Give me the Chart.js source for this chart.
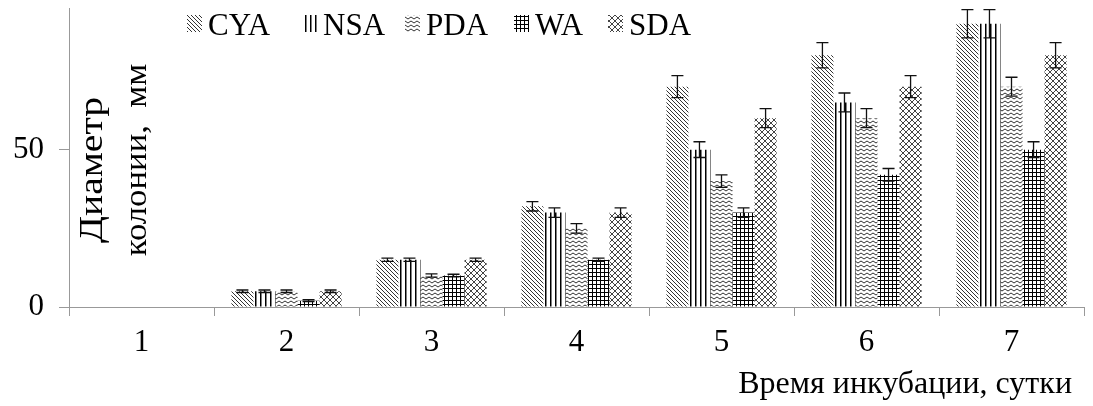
<!DOCTYPE html>
<html>
<head>
<meta charset="utf-8">
<script src="https://cdn.jsdelivr.net/npm/chart.js@4.4.0/dist/chart.umd.min.js"></script>
<style>
  body { margin: 0; background: #fff; }
  #wrap { width: 1093px; height: 406px; }
</style>
</head>
<body>
<div id="wrap"><canvas id="colonyChart" width="1093" height="406"></canvas></div>
<script>
// days of incubation
var days = ["1", "2", "3", "4", "5", "6", "7"];
var media = ["CYA", "NSA", "PDA", "WA", "SDA"];

// colony diameter, mm
var cya = [0, 5, 15, 32, 70, 80, 90];
var nsa = [0, 5, 15, 30, 50, 65, 90];
var pda = [0, 5, 10, 25, 40, 60, 70];
var wa  = [0, 2, 10, 15, 30, 42, 50];
var sda = [0, 5, 15, 30, 60, 70, 80];

// error (+/-)
var cyaErr = [0, 0.4, 0.5, 1.5, 3.5, 4, 4.5];
var nsaErr = [0, 0.4, 0.5, 1.5, 2.5, 3, 4.5];
var pdaErr = [0, 0.4, 0.5, 1.5, 2, 3, 3];
var waErr  = [0, 0.3, 0.4, 0.5, 1.5, 2, 2.5];
var sdaErr = [0, 0.4, 0.5, 1.5, 3, 3.5, 4];

var yTicks = [0, 50];
var FONT = "'Liberation Serif', 'Times New Roman', serif";
// left edge of each legend swatch
var legendX = [187, 302, 405, 514, 608];

/*************** patterns ***************/
function makePattern(kind) {
    var c = document.createElement("canvas");
    var g;
    if (kind == "diag") {
        c.width = 4; c.height = 4;
        g = c.getContext("2d");
        g.strokeStyle = "#333";
        g.lineWidth = 1;
        g.beginPath();
        g.moveTo(-1, -1); g.lineTo(5, 5);
        g.moveTo(-1, 3); g.lineTo(1, 5);
        g.moveTo(3, -1); g.lineTo(5, 1);
        g.stroke();
    } else if (kind == "vert") {
        c.width = 5; c.height = 2;
        g = c.getContext("2d");
        g.fillStyle = "#000";
        g.fillRect(0, 0, 1.5, 2);
    } else if (kind == "wave") {
        c.width = 6; c.height = 4;
        g = c.getContext("2d");
        g.strokeStyle = "#333";
        g.lineWidth = 1;
        g.beginPath();
        g.moveTo(0, 3); g.lineTo(3, 1); g.lineTo(6, 3);
        g.stroke();
    } else if (kind == "grid") {
        c.width = 4; c.height = 4;
        g = c.getContext("2d");
        g.fillStyle = "#000";
        g.fillRect(0, 0, 4, 1);
        g.fillRect(0, 0, 1, 4);
    } else if (kind == "cross") {
        c.width = 6; c.height = 6;
        g = c.getContext("2d");
        g.strokeStyle = "#444";
        g.lineWidth = 1;
        g.beginPath();
        g.moveTo(0, 0); g.lineTo(6, 6);
        g.moveTo(6, 0); g.lineTo(0, 6);
        g.stroke();
    }
    return g.createPattern(c, "repeat");
}

var ctx = document.getElementById("colonyChart").getContext("2d");
var patterns = [makePattern("diag"), makePattern("vert"), makePattern("wave"), makePattern("grid"), makePattern("cross")];
var values = [cya, nsa, pda, wa, sda];
var errors = [cyaErr, nsaErr, pdaErr, waErr, sdaErr];

var datasets = media.map(function (m, i) {
    return {
        label: m,
        data: values[i],
        errors: errors[i],
        backgroundColor: patterns[i],
        borderWidth: 0,
        barPercentage: 1.0,
        categoryPercentage: 0.76
    };
});

/*************** error bars ***************/
var errorBars = {
    id: "errorBars",
    afterDatasetsDraw: function (chart) {
        var c = chart.ctx, y = chart.scales.y;
        c.save();
        c.strokeStyle = "#111";
        c.lineWidth = 1.3;
        chart.data.datasets.forEach(function (ds, i) {
            chart.getDatasetMeta(i).data.forEach(function (bar, j) {
                var e = ds.errors[j];
                if (!e) return;
                var hi = y.getPixelForValue(ds.data[j] + e);
                var lo = y.getPixelForValue(ds.data[j] - e);
                c.beginPath();
                c.moveTo(bar.x, hi); c.lineTo(bar.x, lo);
                c.moveTo(bar.x - 6, hi); c.lineTo(bar.x + 6, hi);
                c.moveTo(bar.x - 6, lo); c.lineTo(bar.x + 6, lo);
                c.stroke();
            });
        });
        c.restore();
    }
};

/*************** legend + axis titles ***************/
function rotatedText(c, text, x, y, size, stretch) {
    c.save();
    c.font = size + "px " + FONT;
    c.fillStyle = "#000";
    c.textAlign = "center";
    c.textBaseline = "alphabetic";
    c.translate(x, y);
    c.rotate(-Math.PI / 2);
    c.scale(stretch, 1);
    c.fillText(text, 0, 0);
    c.restore();
}

var extras = {
    id: "extras",
    afterDraw: function (chart) {
        var c = chart.ctx;
        c.save();
        c.font = "31px " + FONT;
        c.textBaseline = "alphabetic";
        chart.data.datasets.forEach(function (ds, i) {
            var x = legendX[i];
            c.fillStyle = ds.backgroundColor;
            c.fillRect(x, 15, 15, 17);
            c.fillStyle = "#000";
            c.fillText(ds.label, x + 21, 35);
        });
        // x axis title
        c.textAlign = "right";
        c.font = "32px " + FONT;
        c.fillText("Время инкубации, сутки", 1072, 393);
        c.restore();
        // y axis title, two lines
        rotatedText(c, "Диаметр", 102, 170, 33, 1.2);
        rotatedText(c, "колонии,  мм", 146, 160, 31, 1.12);
    }
};

var myChart = new Chart(ctx, {
    type: "bar",
    data: { labels: days, datasets: datasets },
    plugins: [errorBars, extras],
    options: {
        responsive: false,
        animation: false,
        layout: { padding: { top: 8, right: 9, left: 0, bottom: 0 } },
        plugins: {
            legend: { display: false },
            tooltip: { enabled: false }
        },
        scales: {
            x: {
                grid: { drawOnChartArea: false, tickLength: 9, color: "#999", offset: true },
                border: { color: "#999", width: 1 },
                ticks: { color: "#000", font: { family: FONT, size: 31 }, padding: 8 },
                afterFit: function (s) {
                    s.height = 99;
                    s.paddingLeft = 0; s.paddingRight = 0;
                }
            },
            y: {
                min: 0, max: 95,
                grid: { drawOnChartArea: false, tickLength: 10, color: "#999" },
                border: { color: "#999", width: 1 },
                ticks: { color: "#000", font: { family: FONT, size: 31 }, padding: 15, stepSize: 50 },
                afterBuildTicks: function (s) {
                    s.ticks = yTicks.map(function (v) { return { value: v }; });
                },
                afterFit: function (s) {
                    s.width = 69;
                    s.paddingTop = 0; s.paddingBottom = 0;
                }
            }
        }
    }
});
</script>
</body>
</html>
